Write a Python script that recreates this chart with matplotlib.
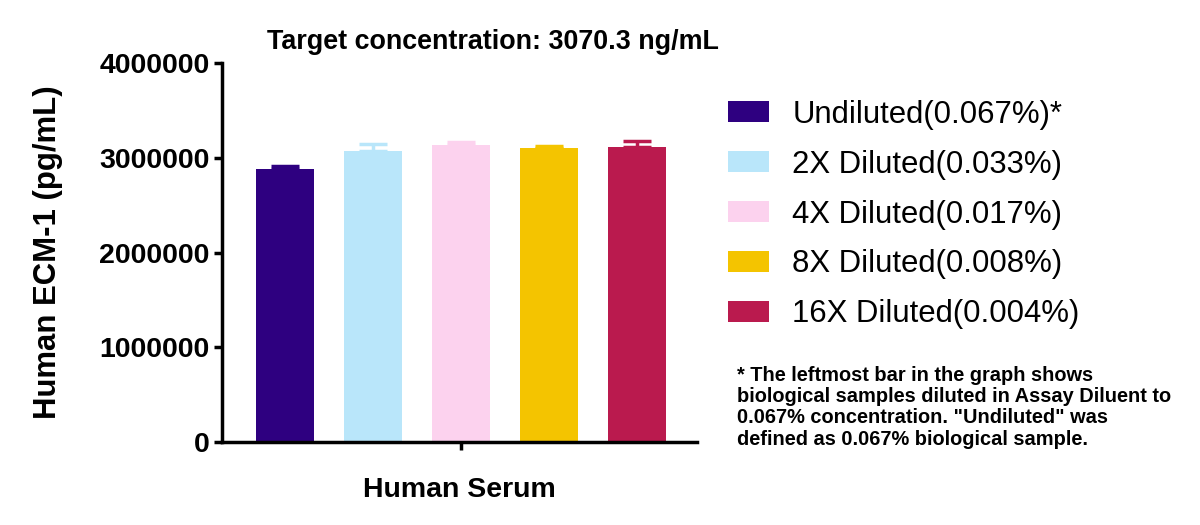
import numpy as np
import matplotlib
matplotlib.use("Agg")
import matplotlib.pyplot as plt

plt.rcParams['font.family'] = ['Liberation Sans', 'DejaVu Sans']

# Данные
groups = ["Undiluted(0.067%)*", "2X Diluted(0.033%)", "4X Diluted(0.017%)",
          "8X Diluted(0.008%)", "16X Diluted(0.004%)"]
means = [2880000, 3075000, 3130000, 3100000, 3110000]
errors = [30000, 75000, 40000, 20000, 70000]
colors = ["#2E0080", "#B9E6FA", "#FCD2EE", "#F4C400", "#BA1A4E"]
y_ticks = [0, 1000000, 2000000, 3000000, 4000000]
note = ('* The leftmost bar in the graph shows\n'
        'biological samples diluted in Assay Diluent to\n'
        '0.067% concentration. "Undiluted" was\n'
        'defined as 0.067% biological sample.')

fig = plt.figure(figsize=(12, 5.25), dpi=100)
ax = fig.add_axes([0.185, 0.158, 0.396, 0.722])

x = np.arange(len(means))
bars = []
for i in range(len(means)):
    b = ax.bar(x[i], means[i], width=0.66, color=colors[i], label=groups[i], zorder=2)
    # только верхняя половина планки погрешности
    ax.errorbar(x[i], means[i], yerr=[[0], [errors[i]]], fmt='none', ecolor=colors[i],
                elinewidth=2.5, capsize=10, capthick=2.5, zorder=1)
    bars.append(b)

ax.set_xlim(-0.716, 4.68)
ax.set_ylim(0, 4000000)
ax.set_yticks(y_ticks)
ax.set_yticklabels([str(t) for t in y_ticks], fontsize=20.5, fontweight='bold')
ax.set_xticks([2])
ax.set_xticklabels([''])

for s in ['top', 'right']:
    ax.spines[s].set_visible(False)
for s in ['left', 'bottom']:
    ax.spines[s].set_linewidth(2.5)
ax.tick_params(axis='both', width=2.5, length=6, pad=3)

ax.set_ylabel("Human ECM-1 (pg/mL)", fontsize=22.4, fontweight='bold', labelpad=26)
ax.set_xlabel("Human Serum", fontsize=20.5, fontweight='bold', labelpad=16)
fig.text(0.411, 0.92, "Target concentration: 3070.3 ng/mL", fontsize=19.4,
         fontweight='bold', ha='center', va='center')

fig.legend(handles=bars, labels=groups, loc='upper left', bbox_to_anchor=(0.607, 0.81),
           frameon=False, fontsize=22.4, handlelength=1.3, handleheight=0.65,
           handletextpad=0.75, labelspacing=0.64, borderaxespad=0, borderpad=0)

fig.text(0.614, 0.303, note, fontsize=14.4, fontweight='bold', ha='left', va='top',
         linespacing=1.15)

fig.savefig("out.png", dpi=100)
